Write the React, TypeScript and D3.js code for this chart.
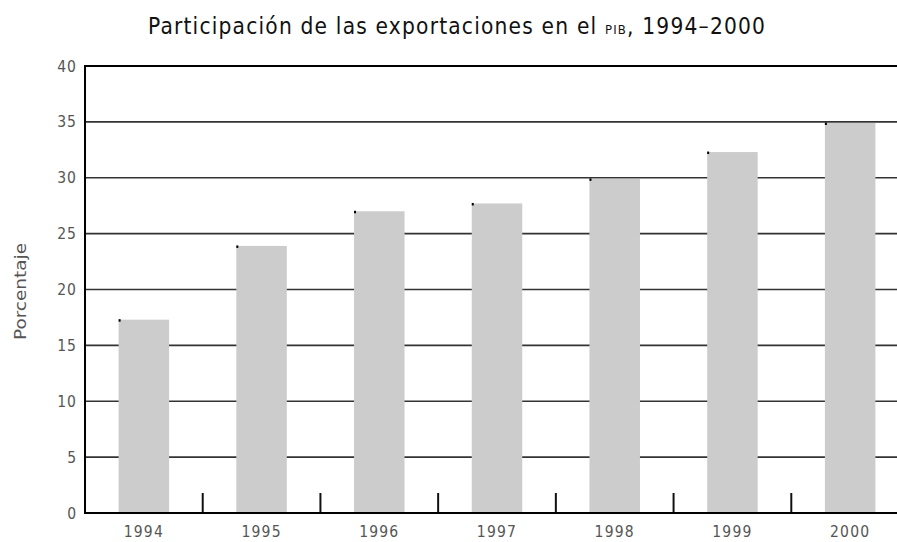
import React from 'react';
import * as d3 from 'd3';

const years = ['1994', '1995', '1996', '1997', '1998', '1999', '2000'];
const shares = [17.3, 23.9, 27.0, 27.7, 29.9, 32.3, 34.9];
const yTicks = [0, 5, 10, 15, 20, 25, 30, 35, 40];

const width = 897,
      height = 542;

export default function App() {
  const left = 85,
        right = 909,
        top = 66,
        bottom = 513;

  const x = d3.scaleBand()
              .domain(years)
              .range([left, right])
              .paddingInner(0)
              .paddingOuter(0);

  const y = d3.scaleLinear()
              .domain([0, 40])
              .range([bottom, top]);

  const barW = 50.5;
  const font = '"Liberation Sans Narrow", "DejaVu Sans Condensed", "Roboto Condensed", sans-serif';

  return (
    <svg width={width} height={height}
         style={{position: 'absolute', left: 0, top: 0, background: '#fff'}}>
      <text x={148} y={34} fontFamily={font} fontSize={22.5} fill="#111"
            textLength={617} lengthAdjust="spacing">
        Participación de las exportaciones en el <tspan fontSize={13}>PIB</tspan>, 1994–2000
      </text>

      {/* gridlines */}
      {yTicks.filter(t => t > 0 && t < 40).map(t =>
        <line key={t} x1={left} x2={width} y1={y(t)} y2={y(t)}
              stroke="#333" strokeWidth={1.6} />
      )}
      <line x1={left - 1} x2={width} y1={y(40)} y2={y(40)} stroke="#000" strokeWidth={2} />

      {/* bars */}
      {years.map((yr, i) => {
        const bx = x(yr)! + (x.bandwidth() - barW) / 2;
        return (
          <g key={yr}>
            <rect x={bx} y={y(shares[i])} width={barW} height={bottom - y(shares[i])}
                  fill="#cccccc" />
            <rect x={bx} y={y(shares[i]) - 0.5} width={2} height={2.5} fill="#000" />
          </g>
        );
      })}

      {/* separators */}
      {years.slice(1).map(yr =>
        <line key={yr} x1={x(yr)} x2={x(yr)} y1={bottom - 20} y2={bottom}
              stroke="#111" strokeWidth={2} />
      )}

      {/* axes */}
      <line x1={left} x2={left} y1={top - 1} y2={bottom + 1} stroke="#000" strokeWidth={2} />
      <line x1={left - 1} x2={width} y1={bottom} y2={bottom} stroke="#000" strokeWidth={2} />

      {yTicks.map(t =>
        <text key={t} x={77} y={y(t) + 5.5} textAnchor="end" fontFamily={font}
              fontSize={15.5} letterSpacing={1} fill="#555">{t}</text>
      )}

      {years.map(yr =>
        <text key={yr} x={x(yr)! + x.bandwidth() / 2} y={537} textAnchor="middle"
              fontFamily={font} fontSize={15.5} letterSpacing={1.2} fill="#555">{yr}</text>
      )}

      <text transform={`translate(26, ${y(20) + 2}) rotate(-90)`} textAnchor="middle"
            fontFamily={font} fontSize={16} fill="#555"
            textLength={97} lengthAdjust="spacingAndGlyphs">Porcentaje</text>
    </svg>
  );
}
